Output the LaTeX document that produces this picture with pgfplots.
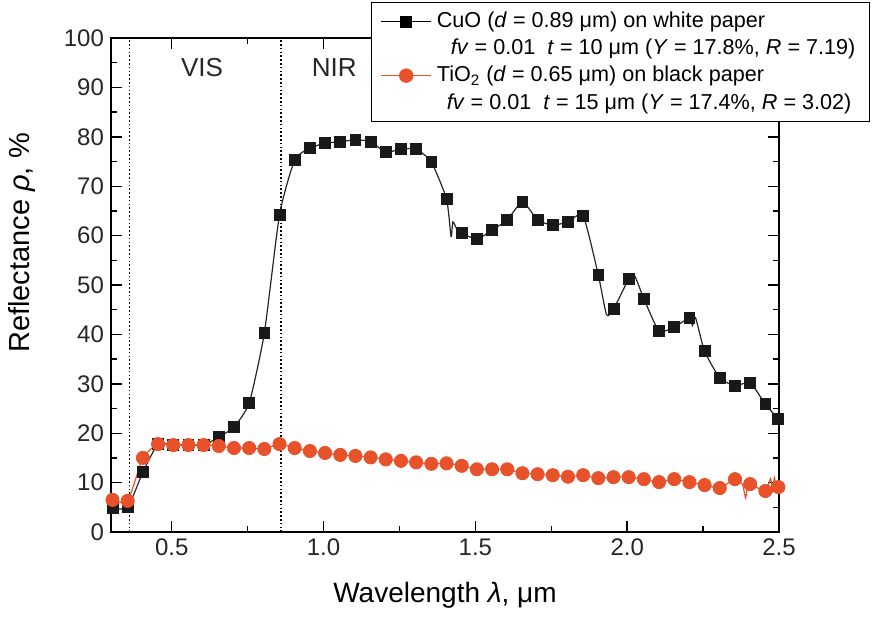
\documentclass[border=0pt]{standalone}
\usepackage{fontspec}
\setmainfont{Liberation Sans}
\usepackage{pgfplots}
\pgfplotsset{compat=1.18}
\usetikzlibrary{calc}
\definecolor{tiorange}{RGB}{232,82,42}

\begin{document}
\begin{tikzpicture}
\begin{axis}[
    name=ax,
    scale only axis,
    width=334pt, height=247pt,
    xmin=0.3, xmax=2.5, ymin=0, ymax=100,
    xtick={0.5,1.0,1.5,2.0,2.5},
    minor xtick={0.75,1.25,1.75,2.25},
    ytick={0,10,...,100},
    minor ytick={5,15,...,95},
    tick align=inside,
    major tick length=5.5pt, minor tick length=3pt,
    every tick/.style={black, line width=0.7pt},
    axis line style={line width=0.75pt},
    x tick label style={/pgf/number format/.cd, fixed, fixed zerofill, precision=1, /tikz/.cd},
    /pgf/number format/assume math mode=true,
    tick label style={font=\fontsize{12}{14}\selectfont, text=black!85},
    xlabel={Wavelength \textit{λ}, μm},
    ylabel={Reflectance \textit{ρ}, \%},
    every axis x label/.style={at={(axis description cs:0.5,-0.1275)}, anchor=center, font=\fontsize{14}{16}\selectfont},
    every axis y label/.style={at={(axis description cs:-0.133,0.585)}, anchor=center, rotate=90, font=\fontsize{14.5}{16}\selectfont},
    legend style={at={(1,1)}, anchor=north east, xshift=45.5pt, yshift=18pt,
        draw=black, line width=0.6pt, fill=white,
        font=\fontsize{10.8}{12.5}\selectfont,
        cells={anchor=west}, nodes={inner ysep=0.8pt, inner xsep=2.5pt},
        row sep=2.6pt, inner xsep=4.5pt, inner ysep=4pt},
    legend image code/.code={\draw[mark repeat=2,mark phase=2,#1] plot coordinates {(0cm,0cm) (0.44cm,0cm) (0.88cm,0cm)};},
]
\addlegendimage{black, line width=0.6pt, mark=square*, mark size=2.7pt}
\addlegendentry{CuO (\textit{d} = 0.89 μm) on white paper}
\addlegendimage{empty legend}
\addlegendentry{\hspace{7pt}\textit{fv} = 0.01\ \ \textit{t} = 10 μm (\textit{Y} = 17.8\%, \textit{R} = 7.19)}
\addlegendimage{tiorange, line width=0.6pt, mark=*, mark size=3.3pt}
\addlegendentry{TiO\textsubscript{2} (\textit{d} = 0.65 μm) on black paper}
\addlegendimage{empty legend}
\addlegendentry{\hspace{5pt}\textit{fv} = 0.01\ \ \textit{t} = 15 μm (\textit{Y} = 17.4\%, \textit{R} = 3.02)}

% region dividers
\addplot[forget plot, black, line width=0.7pt, dash pattern=on 0.8pt off 1.1pt] coordinates {(0.36,0) (0.36,100)};
\addplot[forget plot, black, line width=0.7pt, dash pattern=on 0.8pt off 1.1pt] coordinates {(0.86,0) (0.86,100)};

% CuO curve
\addplot[forget plot, black!85, line width=0.6pt, smooth, tension=0.35] coordinates {
 (0.300,4.5) (0.305,4.8) (0.355,5.0) (0.405,12.1) (0.455,17.8) (0.505,17.6) (0.555,17.6)
 (0.605,17.6) (0.655,19.2) (0.705,21.3) (0.755,26.1) (0.805,40.3) (0.855,64.2)
 (0.905,75.3) (0.955,77.7) (1.005,78.7) (1.055,79.0) (1.105,79.4) (1.155,79.0)
 (1.205,76.9) (1.255,77.5) (1.305,77.5) (1.355,74.9) (1.405,67.4) (1.420,59.8)
 (1.426,62.8) (1.440,61.2) (1.455,60.5) (1.505,59.3) (1.555,61.1) (1.605,63.2)
 (1.655,66.8) (1.705,63.2) (1.755,62.1) (1.805,62.8) (1.855,64.0) (1.905,52.0)
 (1.932,44.0) (1.955,45.1) (2.005,51.2) (2.025,51.8) (2.055,47.2) (2.105,40.7)
 (2.155,41.5) (2.205,43.3) (2.215,41.8) (2.225,43.4) (2.255,36.6) (2.305,31.2)
 (2.355,29.6) (2.405,30.2) (2.455,25.9) (2.497,22.9)
};
\addplot[forget plot, only marks, mark=square*, mark size=2.7pt, black!90] coordinates {
 (0.305,4.8) (0.355,5.0) (0.405,12.1) (0.455,17.8) (0.505,17.6) (0.555,17.6)
 (0.605,17.6) (0.655,19.2) (0.705,21.3) (0.755,26.1) (0.805,40.3) (0.855,64.2)
 (0.905,75.3) (0.955,77.7) (1.005,78.7) (1.055,79.0) (1.105,79.4) (1.155,79.0)
 (1.205,76.9) (1.255,77.5) (1.305,77.5) (1.355,74.9) (1.405,67.4) (1.455,60.5)
 (1.505,59.3) (1.555,61.1) (1.605,63.2) (1.655,66.8) (1.705,63.2) (1.755,62.1)
 (1.805,62.8) (1.855,64.0) (1.905,52.0) (1.955,45.1) (2.005,51.2) (2.055,47.2)
 (2.105,40.7) (2.155,41.5) (2.205,43.3) (2.255,36.6) (2.305,31.2) (2.355,29.6)
 (2.405,30.2) (2.455,25.9) (2.497,22.9)
};

% TiO2 curve
\addplot[forget plot, tiorange, line width=0.6pt, smooth, tension=0.35] coordinates {
 (0.300,6.5) (0.355,6.3) (0.405,15.0) (0.455,17.8) (0.505,17.6) (0.555,17.6)
 (0.605,17.6) (0.655,17.4) (0.705,17.0) (0.755,17.0) (0.805,16.8) (0.855,17.8)
 (0.905,17.0) (0.955,16.4) (1.005,16.0) (1.055,15.6) (1.105,15.4) (1.155,15.1)
 (1.205,14.7) (1.255,14.4) (1.305,14.1) (1.355,13.8) (1.405,13.9) (1.455,13.4)
 (1.505,12.7) (1.555,12.7) (1.605,12.7) (1.655,11.9) (1.705,11.7) (1.755,11.5)
 (1.805,11.2) (1.855,11.5) (1.905,10.9) (1.955,11.1) (2.005,11.1) (2.055,10.7)
 (2.105,10.1) (2.155,10.7) (2.205,10.1) (2.255,9.5) (2.305,8.9) (2.355,10.7)
 (2.380,9.6) (2.390,6.9) (2.397,9.4) (2.405,9.7) (2.455,8.3) (2.472,10.8)
 (2.478,8.2) (2.485,11.0) (2.491,8.6) (2.498,9.1)
};
\addplot[forget plot, only marks, mark=*, mark size=3.3pt, tiorange] coordinates {
 (0.305,6.5) (0.355,6.3) (0.405,15.0) (0.455,17.8) (0.505,17.6) (0.555,17.6)
 (0.605,17.6) (0.655,17.4) (0.705,17.0) (0.755,17.0) (0.805,16.8) (0.855,17.8)
 (0.905,17.0) (0.955,16.4) (1.005,16.0) (1.055,15.6) (1.105,15.4) (1.155,15.1)
 (1.205,14.7) (1.255,14.4) (1.305,14.1) (1.355,13.8) (1.405,13.9) (1.455,13.4)
 (1.505,12.7) (1.555,12.7) (1.605,12.7) (1.655,11.9) (1.705,11.7) (1.755,11.5)
 (1.805,11.2) (1.855,11.5) (1.905,10.9) (1.955,11.1) (2.005,11.1) (2.055,10.7)
 (2.105,10.1) (2.155,10.7) (2.205,10.1) (2.255,9.5) (2.305,8.9) (2.355,10.7)
 (2.405,9.7) (2.455,8.3) (2.498,9.1)
};

\node[font=\fontsize{13}{15}\selectfont, text=black!85] at (axis cs:0.6,94) {VIS};
\node[font=\fontsize{13}{15}\selectfont, text=black!85] at (axis cs:1.035,94) {NIR};
\end{axis}
\pgfresetboundingbox
\path[use as bounding box] ($(ax.south west)+(-55.5pt,-42.5pt)$) rectangle ($(ax.north east)+(47pt,19pt)$);
\end{tikzpicture}
\end{document}
